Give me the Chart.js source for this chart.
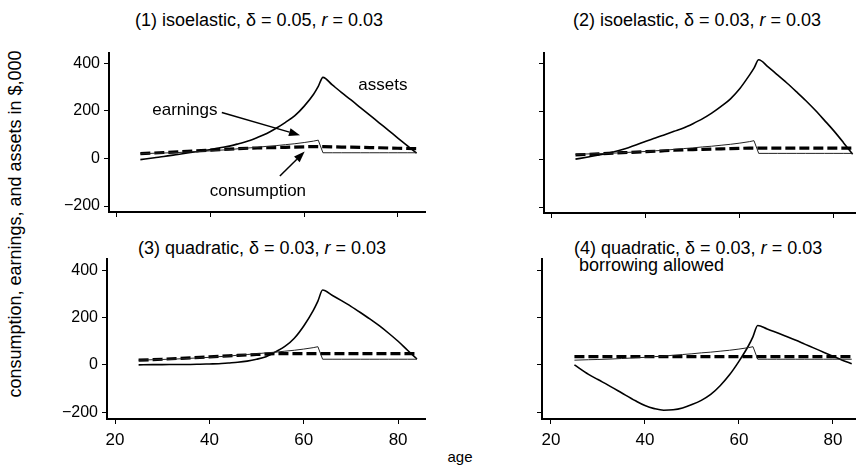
<!DOCTYPE html>
<html>
<head>
<meta charset="utf-8">
<script src="https://cdn.jsdelivr.net/npm/chart.js@4.4.1/dist/chart.umd.min.js"></script>
<style>
  html, body { margin:0; padding:0; background:#fff; }
  body { width:856px; height:466px; position:relative; overflow:hidden; font-family:'Liberation Sans', Arial, sans-serif; color:#000; }
  canvas { position:absolute; }
  .t { position:absolute; white-space:nowrap; font-size:18px; line-height:18px; }
  .c { transform:translateX(-50%); }
  #ylab { position:absolute; left:15px; top:224px; transform:translate(-50%,-50%) rotate(-90deg); font-size:18px; white-space:nowrap; line-height:18px; }
  #xlab { position:absolute; left:460px; top:456px; transform:translate(-50%,-50%); font-size:15px; line-height:15px; white-space:nowrap; }
</style>
</head>
<body>
<div class="t c" style="left:259px; top:11px;">(1) isoelastic, δ = 0.05, <i>r</i> = 0.03</div>
<div class="t c" style="left:697px; top:11px;">(2) isoelastic, δ = 0.03, <i>r</i> = 0.03</div>
<div class="t c" style="left:262px; top:239px;">(3) quadratic, δ = 0.03, <i>r</i> = 0.03</div>
<div class="t" style="left:574px; top:240px; line-height:17px;">(4) quadratic, δ = 0.03, <i>r</i> = 0.03<br>&nbsp;borrowing allowed</div>
<div id="ylab">consumption, earnings, and assets in $,000</div>
<div id="xlab">age</div>

<canvas id="p1"></canvas>
<canvas id="p2"></canvas>
<canvas id="p3"></canvas>
<canvas id="p4"></canvas>

<script>
// ---- data ----
const ages = [25,28,30,33,35,38,40,42,44,46,48,50,52,54,56,58,60,62,63,64,66,68,70,72,74,76,78,80,82,84];
const earnings = [20,22,23,25,27,30,32,35,37,41,44,47,51,54,58,62,67,73,77,24,24,24,24,24,24,24,24,24,24,24];

const consumption1 = [20,23,25,28,30,33,35,37,39,41,43,44,45,46,47,48,49,50,50,50,49,48,48,47,46,45,44,43,42,41];
const assets1 = [-5,3,8,17,23,32,38,45,52,62,73,88,105,127,152,180,220,270,303,341,309,277,246,214,182,150,118,86,54,22];

const consumption2 = [18,20,22,25,27,29,31,33,35,37,39,40,41,42,43,44,45,46,46,46,46,46,46,46,46,46,46,46,46,46];
const assets2 = [0,10,17,30,40,60,75,88,102,116,130,148,168,192,220,252,295,350,380,415,385,352,318,282,245,205,162,118,70,20];

const consumption3 = [20,22,24,27,29,32,34,36,38,40,42,44,46,48,48,48,48,48,48,48,48,48,48,48,48,48,48,48,48,48];
const assets3 = [0,1,1,2,2,3,4,5,8,11,16,24,35,55,78,113,165,230,270,317,295,272,248,222,195,166,134,100,62,25];

const consumption4 = [35,35,35,35,35,35,35,35,35,35,35,35,35,35,35,35,35,35,35,35,35,35,35,35,35,35,35,35,35,35];
const assets4 = [0,-40,-62,-95,-118,-152,-172,-185,-192,-190,-182,-168,-150,-125,-88,-42,15,80,120,167,152,137,121,105,88,71,54,37,20,5];

const xTicks = [20,40,60,80];
const yTicks = [-200,0,200,400];

// annotations for panel 1 (data coordinates)
const notes1 = [
  {text:'assets', x:76.8, y:308},
  {text:'earnings', x:34.5, y:201},
  {text:'consumption', x:50.1, y:-136}
];
const arrows1 = [
  {from:[42.4,193], to:[59.1,98]},
  {from:[54.8,-74], to:[60.1,29]}
];

// ---- drawing ----
const YW = 60, XH = 40, PT = 10, PR = 5;
const tickFontY = {family:"'Liberation Sans',Arial", size:16};
const tickFontX = {family:"'Liberation Sans',Arial", size:17};

function pts(vals){ return ages.map((a,i)=>({x:a, y:vals[i]})); }

const annotPlugin = {
  id:'annot',
  afterDatasetsDraw(chart, args, opts){
    if(!opts || !opts.notes) return;
    const ctx = chart.ctx, xs = chart.scales.x, ys = chart.scales.y;
    ctx.save();
    ctx.fillStyle = '#000';
    ctx.font = "17px 'Liberation Sans', Arial";
    ctx.textAlign = 'center'; ctx.textBaseline = 'middle';
    opts.notes.forEach(n => ctx.fillText(n.text, xs.getPixelForValue(n.x), ys.getPixelForValue(n.y)));
    ctx.strokeStyle = '#000'; ctx.lineWidth = 1.5;
    opts.arrows.forEach(a => {
      const x0 = xs.getPixelForValue(a.from[0]), y0 = ys.getPixelForValue(a.from[1]);
      const x1 = xs.getPixelForValue(a.to[0]), y1 = ys.getPixelForValue(a.to[1]);
      const ang = Math.atan2(y1-y0, x1-x0), L = 11, W = 4;
      const bx = x1 - L*Math.cos(ang), by = y1 - L*Math.sin(ang);
      ctx.beginPath(); ctx.moveTo(x0,y0); ctx.lineTo(bx,by); ctx.stroke();
      ctx.beginPath();
      ctx.moveTo(x1,y1);
      ctx.lineTo(bx + W*Math.sin(ang), by - W*Math.cos(ang));
      ctx.lineTo(bx - W*Math.sin(ang), by + W*Math.cos(ang));
      ctx.closePath(); ctx.fill();
    });
    ctx.restore();
  }
};

function makePanel(id, area, xmin, xmax, ymin, ymax, cons, assets, showY, showX, annot){
  const cv = document.getElementById(id);
  const w = (area.r - area.l) + YW + PR;
  const h = (area.b - area.t) + PT + XH;
  cv.width = w; cv.height = h;
  cv.style.left = (area.l - YW) + 'px';
  cv.style.top = (area.t - PT) + 'px';
  cv.style.width = w + 'px'; cv.style.height = h + 'px';
  new Chart(cv, {
    type:'line',
    data:{ datasets:[
      {data:pts(earnings), borderColor:'#222', borderWidth:1, pointRadius:0, tension:0},
      {data:pts(assets), borderColor:'#000', borderWidth:1.6, pointRadius:0, cubicInterpolationMode:'monotone'},
      {data:pts(cons), borderColor:'#000', borderWidth:3.2, borderDash:[10,4], pointRadius:0, tension:0}
    ]},
    options:{
      responsive:false, animation:false, devicePixelRatio:1,
      layout:{padding:{left:0, right:PR, top:PT, bottom:0}},
      plugins:{legend:{display:false}, tooltip:{enabled:false}, title:{display:false}, annot: annot || {}},
      scales:{
        x:{ type:'linear', min:xmin, max:xmax,
            afterFit:s=>{ s.height = XH; },
            afterBuildTicks:s=>{ s.ticks = xTicks.map(v=>({value:v})); },
            ticks:{ font:tickFontX, color:'#000', padding:6, maxRotation:0, autoSkip:false,
                    callback:v=> showX ? String(v) : '' },
            grid:{ display:true, drawOnChartArea:false, drawTicks:true, tickLength:5, color:'#000', lineWidth:1 },
            border:{ display:true, color:'#000', width:2 } },
        y:{ type:'linear', min:ymin, max:ymax,
            afterFit:s=>{ s.width = YW; },
            afterBuildTicks:s=>{ s.ticks = yTicks.map(v=>({value:v})); },
            ticks:{ font:tickFontY, color:'#000', padding:4, autoSkip:false,
                    callback:v=> showY ? (v<0 ? '\u2212'+Math.abs(v) : String(v)) : '' },
            grid:{ display:true, drawOnChartArea:false, drawTicks:true, tickLength:5, color:'#000', lineWidth:1 },
            border:{ display:true, color:'#000', width:2 } }
      }
    },
    plugins:[annotPlugin]
  });
}

makePanel('p1', {l:109, r:425, t:49, b:212}, 18.3, 85.8, -225, 445, consumption1, assets1, true, false, {notes:notes1, arrows:arrows1});
makePanel('p2', {l:544, r:855, t:49, b:213}, 18.3, 84.5, -225, 445, consumption2, assets2, false, false, null);
makePanel('p3', {l:107, r:425, t:255, b:419}, 18.3, 85.7, -229, 450, consumption3, assets3, true, true, null);
makePanel('p4', {l:542, r:855, t:255, b:419}, 18.1, 84.7, -229, 450, consumption4, assets4, false, true, null);
</script>
</body>
</html>
